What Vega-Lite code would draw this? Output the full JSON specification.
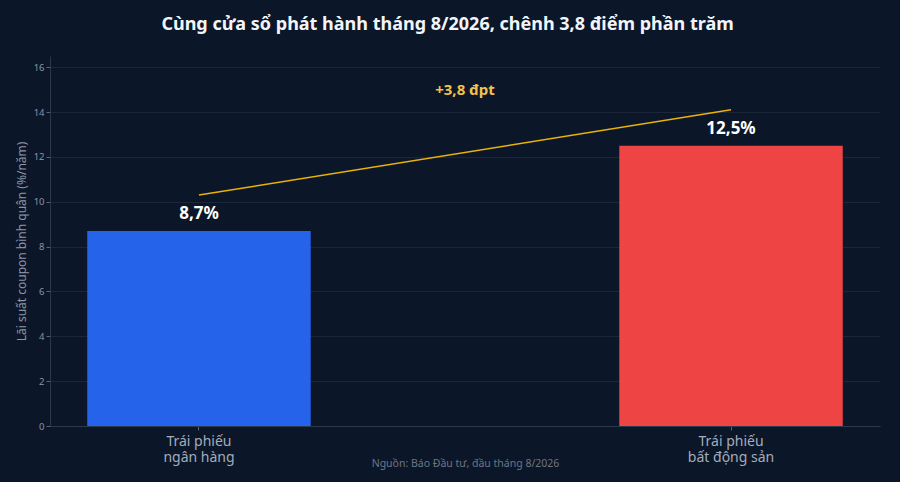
{
  "$schema": "https://vega.github.io/schema/vega-lite/v6.json",
  "description": "Lai suat coupon binh quan: trai phieu ngan hang vs bat dong san, thang 8/2026",
  "background": "#0b1628",
  "autosize": {"type": "none"},
  "padding": {"left": 50, "top": 56, "right": 20, "bottom": 56},
  "width": 830,
  "height": 370,
  "title": {
    "text": "Cùng cửa sổ phát hành tháng 8/2026, chênh 3,8 điểm phần trăm",
    "fontSize": 18,
    "fontWeight": "bold",
    "color": "#f1f5f9",
    "anchor": "middle",
    "frame": "bounds",
    "offset": 22
  },
  "datasets": {
    "bars": [
      {"loai": "Trái phiếu ngân hàng", "lai_suat": 8.7, "nhan": "8,7%"},
      {"loai": "Trái phiếu bất động sản", "lai_suat": 12.5, "nhan": "12,5%"}
    ],
    "chenh": [
      {"vi_tri": 0, "muc": 10.3},
      {"vi_tri": 1, "muc": 14.1}
    ],
    "ghi_chu": [
      {"vi_tri": 0.5, "muc": 15.0, "nhan": "+3,8 đpt"}
    ]
  },
  "encoding": {
    "y": {
      "type": "quantitative",
      "scale": {"domain": [0, 16.5], "nice": false},
      "axis": {
        "title": "Lãi suất coupon bình quân (%/năm)",
        "values": [0, 2, 4, 6, 8, 10, 12, 14, 16],
        "titleFontSize": 12,
        "titleFontWeight": "normal",
        "titleColor": "#8b95a5",
        "titlePadding": 5,
        "labelColor": "#8b95a5",
        "labelFontSize": 9.5,
        "gridColor": "#1b2738",
        "domainColor": "#2b394d",
        "tickColor": "#5b6676",
        "tickSize": 4
      }
    }
  },
  "layer": [
    {
      "data": {"name": "bars"},
      "encoding": {
        "x": {
          "field": "loai",
          "type": "nominal",
          "sort": null,
          "scale": {"paddingInner": 0.58, "paddingOuter": 0.07},
          "axis": {
            "title": "Nguồn: Báo Đầu tư, đầu tháng 8/2026",
            "titleFontSize": 10.5,
            "titleFontWeight": "normal",
            "titleColor": "#6b7685",
            "titleY": 32,
            "labelAngle": 0,
            "labelFontSize": 14,
            "labelColor": "#a3adba",
            "labelPadding": 4,
            "labelLineHeight": 16,
            "labelExpr": "datum.value == 'Trái phiếu ngân hàng' ? ['Trái phiếu', 'ngân hàng'] : ['Trái phiếu', 'bất động sản']",
            "domainColor": "#2b394d",
            "tickColor": "#5b6676",
            "tickSize": 4,
            "grid": false
          }
        }
      },
      "layer": [
        {
          "mark": {"type": "bar"},
          "encoding": {
            "y": {"field": "lai_suat"},
            "color": {
              "field": "loai",
              "type": "nominal",
              "scale": {
                "domain": ["Trái phiếu ngân hàng", "Trái phiếu bất động sản"],
                "range": ["#2563eb", "#ef4444"]
              },
              "legend": null
            }
          }
        },
        {
          "mark": {
            "type": "text",
            "baseline": "bottom",
            "dy": -8,
            "fontSize": 17,
            "fontWeight": "bold",
            "color": "#ffffff"
          },
          "encoding": {
            "y": {"field": "lai_suat"},
            "text": {"field": "nhan"}
          }
        }
      ]
    },
    {
      "encoding": {
        "x": {
          "field": "vi_tri",
          "type": "quantitative",
          "scale": {"domain": [-0.28, 1.28], "nice": false, "zero": false},
          "axis": null
        }
      },
      "layer": [
        {
          "data": {"name": "chenh"},
          "mark": {"type": "line", "color": "#eab308", "strokeWidth": 1.5},
          "encoding": {"y": {"field": "muc"}}
        },
        {
          "data": {"name": "ghi_chu"},
          "mark": {
            "type": "text",
            "baseline": "middle",
            "fontSize": 15,
            "fontWeight": "bold",
            "color": "#f2c14e"
          },
          "encoding": {
            "y": {"field": "muc"},
            "text": {"field": "nhan"}
          }
        }
      ]
    }
  ],
  "resolve": {"scale": {"x": "independent"}, "axis": {"x": "independent"}},
  "config": {
    "font": "Noto Sans",
    "view": {"stroke": null}
  }
}
